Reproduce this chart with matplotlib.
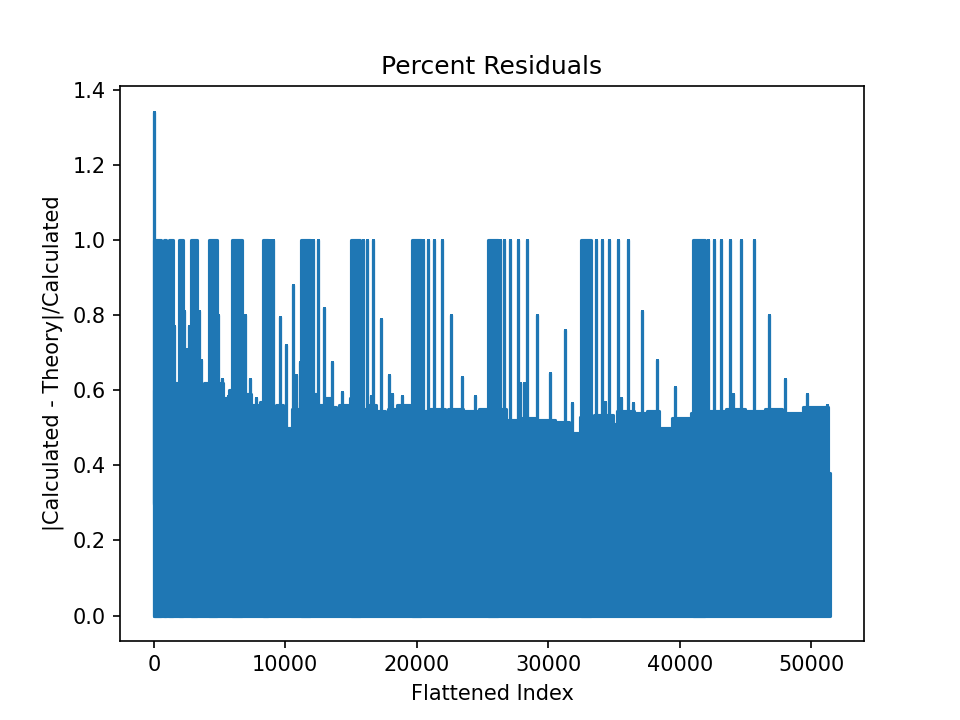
import numpy as np
import matplotlib
matplotlib.use('Agg')

import matplotlib.pyplot as plt

# values
n_points = 51450
first_peak_idx = 20
first_peak_val = 1.342

# upper edge of the dense band (segment starts and heights)
band_idx = [0, 600, 1500, 1900, 2300, 2500, 3000, 3400, 3800, 4200, 5000,
            5300, 5700, 6000, 7000, 7400, 8100, 8800, 9300, 9850, 10500,
            11100, 11900, 12400, 13000, 13500, 13850, 14050, 14900, 15700,
            16300, 16900, 17550, 17800, 18500, 19500, 20300, 21000, 22150,
            22350, 23500, 24700, 25400, 26800, 28000, 29000, 30500, 31600,
            32400, 33500, 34900, 35200, 36500, 37500, 38450, 39450, 40850,
            42000, 43500, 45000, 46500, 47800, 48000, 49200, 49400, 51250,
            51450]
band_top = [0.60, 0.57, 0.62, 0.60, 0.64, 0.60, 0.63, 0.60, 0.62, 0.58, 0.62,
            0.58, 0.60, 0.57, 0.59, 0.56, 0.57, 0.55, 0.56, 0.50, 0.55,
            0.57, 0.59, 0.56, 0.58, 0.555, 0.50, 0.56, 0.58, 0.55,
            0.56, 0.545, 0.50, 0.55, 0.56, 0.55, 0.545, 0.55, 0.50,
            0.55, 0.545, 0.55, 0.55, 0.52, 0.525, 0.52, 0.515, 0.485,
            0.53, 0.535, 0.51, 0.545, 0.54, 0.545, 0.50, 0.525, 0.54,
            0.545, 0.55, 0.545, 0.55, 0.49, 0.54, 0.51, 0.555, 0.38,
            0.38]

# runs of values at 1.0
run_start = [0, 740, 1190, 1880, 2840, 4160, 5930, 8290, 11200, 14980,
             19610, 25430, 32480, 41010]
run_end = [560, 920, 1450, 2210, 3320, 4840, 6690, 8720, 11880, 15680,
           20320, 26190, 33290, 41900]
run_val = 1.0

# isolated values at 1.0
one_idx = [8840, 9050, 12010, 12140, 12520, 15890, 16240, 16650, 20490,
           20870, 21330, 21890, 26320, 26650, 27080, 27670, 28350, 33620,
           34100, 34630, 35310, 36070, 42150, 42580, 43170, 43850, 44640,
           45620]

# other spikes above the band
spike_idx = [615, 1500, 2260, 2460, 2640, 3400, 3600, 3900, 4920, 5200,
             5630, 6950, 7330, 7780, 9600, 10060, 10620, 10800, 11120, 12970,
             13530, 14290, 16490, 17250, 17910, 18090, 18850, 20400, 22600,
             23410, 24420, 27840, 28170, 29160, 30120, 31260, 31820, 34300,
             35500, 36450, 37130, 38270, 39620, 44020, 46790, 48050, 49700,
             51190]
spike_val = [0.81, 0.77, 0.81, 0.71, 0.77, 0.81, 0.68, 0.61, 0.80, 0.63,
             0.585, 0.80, 0.63, 0.58, 0.795, 0.72, 0.88, 0.64, 0.675, 0.82,
             0.675, 0.595, 0.585, 0.79, 0.64, 0.59, 0.585, 0.585, 0.80,
             0.635, 0.585, 0.62, 0.62, 0.80, 0.645, 0.76, 0.565, 0.57,
             0.58, 0.565, 0.81, 0.68, 0.61, 0.59, 0.80, 0.63, 0.59,
             0.56]


def zigzag(xs, ys, base):
    # up and back down for each spike
    px, py = [], []
    for x, y in zip(xs, ys):
        px += [x, x, x]
        py += [base, y, base]
    return px, py


def main():
    color = '#1f77b4'
    fig, ax = plt.subplots(figsize=(6.4, 4.8), dpi=150)

    ax.fill_between(band_idx, 0, band_top, step='post', color=color,
                    lw=1.5, edgecolor=color)
    for s, e in zip(run_start, run_end):
        ax.fill_between([s, e], 0, run_val, color=color, lw=1.5,
                        edgecolor=color)

    xs = [first_peak_idx] + one_idx + spike_idx
    ys = [first_peak_val] + [run_val] * len(one_idx) + spike_val
    lx, ly = zigzag(xs, ys, 0.3)
    ax.plot(lx, ly, color=color, lw=1.5)

    ax.set_title('Percent Residuals')
    ax.set_xlabel('Flattened Index')
    ax.set_ylabel('|Calculated - Theory|/Calculated')

    plt.savefig('out.png')


if __name__ == "__main__":
    main()
